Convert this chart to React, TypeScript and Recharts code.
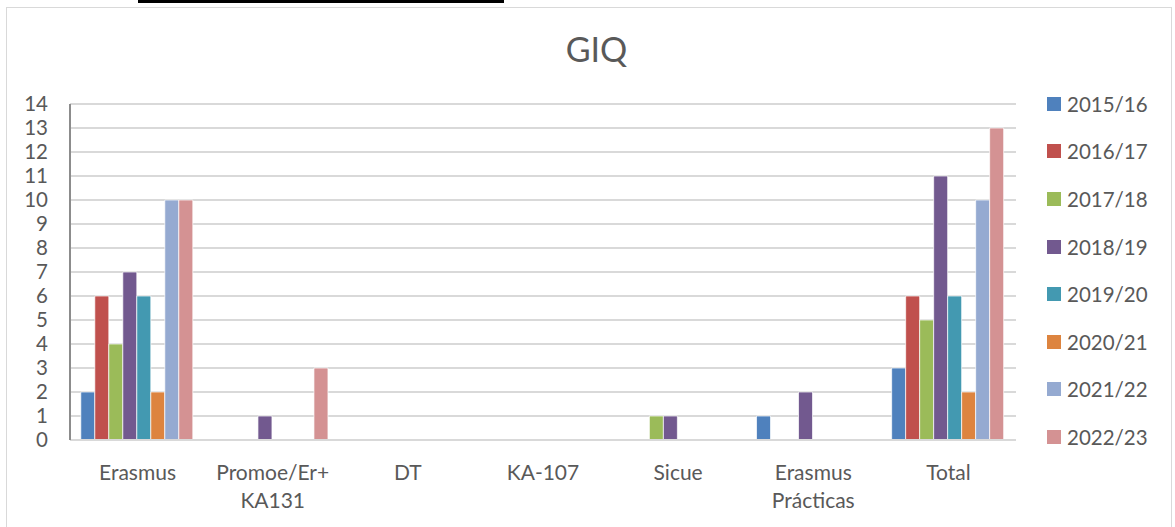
import { BarChart, Bar, XAxis, YAxis, CartesianGrid } from "recharts";

const categories = ["Erasmus", "Promoe/Er+\nKA131", "DT", "KA-107", "Sicue", "Erasmus\nPrácticas", "Total"];
const years = ["2015/16", "2016/17", "2017/18", "2018/19", "2019/20", "2020/21", "2021/22", "2022/23"];

// one list per academic year, in category order
const y2015 = [2, 0, 0, 0, 0, 1, 3];
const y2016 = [6, 0, 0, 0, 0, 0, 6];
const y2017 = [4, 0, 0, 0, 1, 0, 5];
const y2018 = [7, 1, 0, 0, 1, 2, 11];
const y2019 = [6, 0, 0, 0, 0, 0, 6];
const y2020 = [2, 0, 0, 0, 0, 0, 2];
const y2021 = [10, 0, 0, 0, 0, 0, 10];
const y2022 = [10, 3, 0, 0, 0, 0, 13];

const yTicks = [0, 1, 2, 3, 4, 5, 6, 7, 8, 9, 10, 11, 12, 13, 14];

const series = [y2015, y2016, y2017, y2018, y2019, y2020, y2021, y2022];
const colors = ["#4f81bd", "#c0504d", "#9bbb59", "#72598f", "#4399b1", "#dd843f", "#95aad1", "#d49293"];

const data = categories.map((name, i) => {
  const row: Record<string, string | number> = { name };
  years.forEach((y, j) => {
    row[y] = series[j][i];
  });
  return row;
});

const FONT = "Lato, 'Open Sans', sans-serif";
const GREY = "#595959";

function CategoryTick(props: any) {
  const { x, y, payload } = props;
  const lines = String(payload.value).split("\n");
  return (
    <text x={x} y={y + 25} textAnchor="middle" fill={GREY} fontSize={21} fontFamily={FONT}>
      {lines.map((l, i) => (
        <tspan key={i} x={x} dy={i === 0 ? "0.35em" : 28}>
          {l}
        </tspan>
      ))}
    </text>
  );
}

export default function App() {
  return (
    <div style={{ position: "absolute", left: 0, top: 0, width: 1175, height: 527, background: "#fff", overflow: "hidden" }}>
      <div style={{ position: "absolute", left: 138, top: 0, width: 366, height: 3, background: "#000" }} />
      <div
        style={{
          position: "absolute",
          left: 6,
          top: 7,
          width: 1166,
          height: 530,
          border: "1px solid #d9d9d9",
          boxSizing: "border-box",
        }}
      />
      <div
        style={{
          position: "absolute",
          left: 0,
          width: 1193,
          top: 28,
          textAlign: "center",
          fontFamily: FONT,
          fontSize: 34,
          color: GREY,
        }}
      >
        GIQ
      </div>
      <div style={{ position: "absolute", left: 0, top: 0 }}>
        <BarChart
          width={1175}
          height={527}
          data={data}
          margin={{ top: 104, right: 159, bottom: 57, left: 0 }}
          barCategoryGap="8%"
          barGap={0}
        >
          <CartesianGrid vertical={false} stroke="#d9d9d9" strokeWidth={2} />
          <XAxis
            dataKey="name"
            height={30}
            interval={0}
            tickLine={false}
            axisLine={{ stroke: "#d9d9d9", strokeWidth: 2 }}
            tick={<CategoryTick />}
          />
          <YAxis
            width={70}
            domain={[0, 14]}
            ticks={yTicks}
            interval={0}
            tickLine={false}
            tickSize={0}
            tickMargin={22}
            axisLine={{ stroke: "#8c8c8c", strokeWidth: 2 }}
            tick={{ fill: GREY, fontSize: 20.5, fontFamily: FONT }}
          />
          {years.map((y, j) => (
            <Bar
              key={y}
              dataKey={y}
              fill={colors[j]}
              stroke="#ffffff"
              strokeOpacity={0.7}
              strokeWidth={1}
              isAnimationActive={false}
            />
          ))}
        </BarChart>
      </div>
      <div style={{ position: "absolute", left: 1047, top: 80, fontFamily: FONT, fontSize: 20.5, color: GREY }}>
        {years.map((y, j) => (
          <div key={y} style={{ display: "flex", alignItems: "center", height: 47.6 }}>
            <div style={{ width: 14, height: 14, background: colors[j], marginRight: 6 }} />
            <span>{y}</span>
          </div>
        ))}
      </div>
    </div>
  );
}
